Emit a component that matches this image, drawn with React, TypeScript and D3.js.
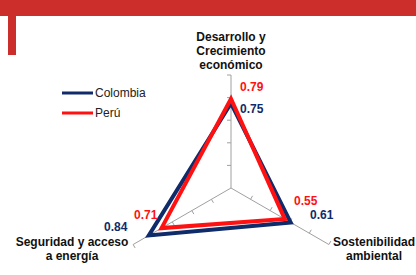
import React, { useRef, useEffect } from "react";
import * as d3 from "d3";

const axes = ["Desarrollo y Crecimiento económico", "Sostenibilidad ambiental", "Seguridad y acceso a energía"];
const axisLabelLines = [
  ["Desarrollo y", "Crecimiento", "económico"],
  ["Sostenibilidad", "ambiental"],
  ["Seguridad y acceso", "a energía"],
];
const colombia = [0.75, 0.61, 0.84];
const peru = [0.79, 0.55, 0.71];
const ticks = [0.2, 0.4, 0.6, 0.8, 1.0];

const NAVY = "#102b6a";
const RED = "#ff1111";

const App: React.FC = () => {
  const ref = useRef<SVGSVGElement | null>(null);

  useEffect(() => {
    const svg = d3.select(ref.current);
    svg.selectAll("*").remove();

    const W = 416;
    const H = 275;
    const cx = 231;
    const cy = 188;

    svg.attr("width", W).attr("height", H).attr("viewBox", `0 0 ${W} ${H}`);
    svg.append("rect").attr("width", W).attr("height", H).attr("fill", "#fff");

    // red header frame
    svg.append("rect").attr("x", 0).attr("y", 0).attr("width", W).attr("height", 16).attr("fill", "#cc2e2b");
    svg.append("rect").attr("x", 8).attr("y", 0).attr("width", 8).attr("height", 55).attr("fill", "#cc2e2b");

    const r = d3.scaleLinear().domain([0, 1]).range([0, 113]);
    // angles: top, lower right, lower left (clockwise from top)
    const angle = d3.scalePoint<number>().domain(d3.range(axes.length + 1)).range([0, 2 * Math.PI]);
    const pt = (i: number, v: number): [number, number] => {
      const a = angle(i) as number;
      return [cx + r(v) * Math.sin(a), cy - r(v) * Math.cos(a)];
    };

    const g = svg.append("g");

    // axes with tick marks
    axes.forEach((_, i) => {
      const [x2, y2] = pt(i, 1);
      g.append("line")
        .attr("x1", cx).attr("y1", cy).attr("x2", x2).attr("y2", y2)
        .attr("stroke", "#a0a0a0").attr("stroke-width", 1);
      const a = angle(i) as number;
      const nx = -Math.cos(a);
      const ny = -Math.sin(a);
      ticks.forEach((t) => {
        const [tx, ty] = pt(i, t);
        g.append("line")
          .attr("x1", tx).attr("y1", ty)
          .attr("x2", tx + nx * 4).attr("y2", ty + ny * 4)
          .attr("stroke", "#a0a0a0").attr("stroke-width", 1);
      });
    });

    const line = d3.line<number>()
      .x((d, i) => pt(i, d)[0])
      .y((d, i) => pt(i, d)[1])
      .curve(d3.curveLinearClosed);

    g.append("path").datum(colombia).attr("d", line)
      .attr("fill", "none").attr("stroke", NAVY).attr("stroke-width", 4).attr("stroke-linejoin", "miter");
    g.append("path").datum(peru).attr("d", line)
      .attr("fill", "none").attr("stroke", RED).attr("stroke-width", 4).attr("stroke-linejoin", "miter");

    // axis labels
    const labelPos: { x: number; y: number }[] = [
      { x: 231, y: 41 },
      { x: 374, y: 246 },
      { x: 72, y: 246 },
    ];
    axisLabelLines.forEach((lines, i) => {
      const t = g.append("text")
        .attr("text-anchor", "middle")
        .attr("font-family", "Liberation Sans, Arial, sans-serif")
        .attr("font-weight", "bold")
        .attr("font-size", 12)
        .attr("fill", "#111");
      lines.forEach((l, j) => {
        t.append("tspan").attr("x", labelPos[i].x).attr("y", labelPos[i].y + j * 14).text(l);
      });
    });

    // value labels
    const fmt = d3.format(".2f");
    const valueLabels = [
      { v: peru[0], color: RED, x: 240, y: 91 },
      { v: colombia[0], color: NAVY, x: 240, y: 113 },
      { v: peru[1], color: RED, x: 294, y: 205 },
      { v: colombia[1], color: NAVY, x: 310, y: 219 },
      { v: peru[2], color: RED, x: 134, y: 219 },
      { v: colombia[2], color: NAVY, x: 104, y: 231 },
    ];
    valueLabels.forEach((d) => {
      g.append("text")
        .attr("x", d.x).attr("y", d.y)
        .attr("font-family", "Liberation Sans, Arial, sans-serif")
        .attr("font-weight", "bold")
        .attr("font-size", 12)
        .attr("fill", d.color)
        .text(fmt(d.v));
    });

    // legend
    const legend = [
      { name: "Colombia", color: NAVY },
      { name: "Perú", color: RED },
    ];
    legend.forEach((d, i) => {
      const y = 93 + i * 20;
      g.append("line").attr("x1", 62).attr("x2", 93).attr("y1", y).attr("y2", y)
        .attr("stroke", d.color).attr("stroke-width", 3);
      g.append("text").attr("x", 95).attr("y", y + 4)
        .attr("font-family", "Liberation Sans, Arial, sans-serif")
        .attr("font-size", 12).attr("fill", "#222")
        .text(d.name);
    });
  }, []);

  return (
    <svg ref={ref} style={{ position: "fixed", left: 0, top: 0, display: "block" }} />
  );
};

export default App;
